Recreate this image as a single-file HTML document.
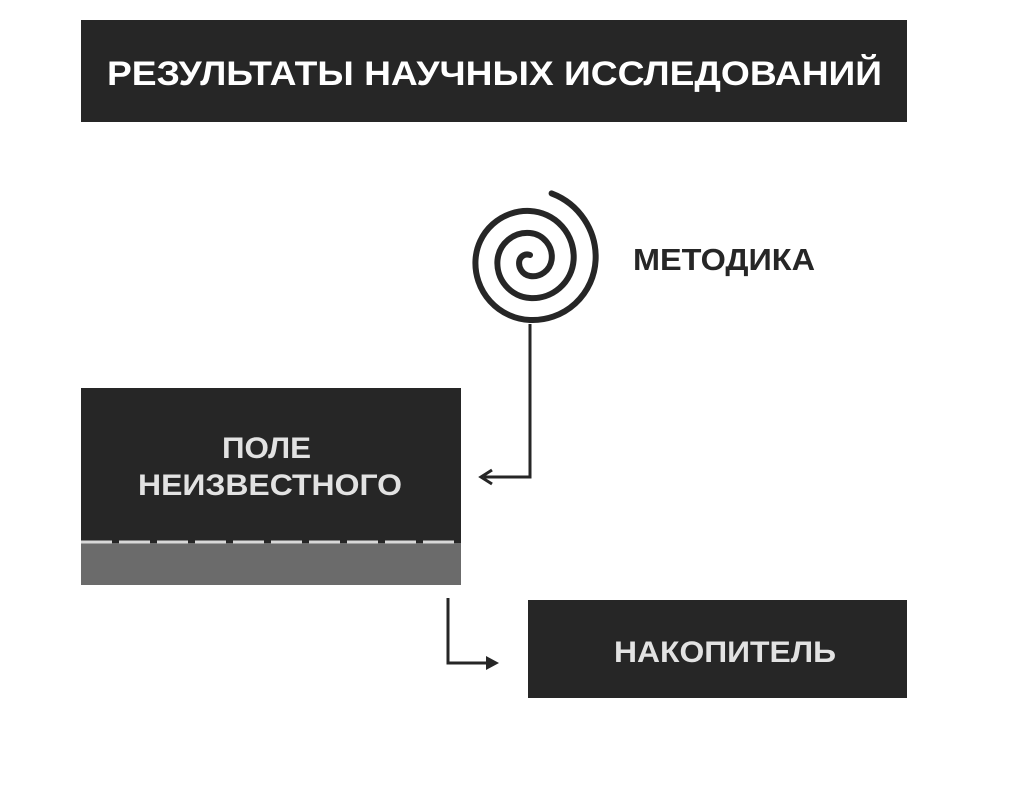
<!DOCTYPE html>
<html><head><meta charset="utf-8"><style>
html,body{margin:0;padding:0;background:#fff;}
svg{display:block;}
text{font-family:"Liberation Sans","DejaVu Sans",sans-serif;font-weight:bold;}
</style></head><body>
<svg width="1024" height="794" viewBox="0 0 1024 794" xmlns="http://www.w3.org/2000/svg">
<rect x="0" y="0" width="1024" height="794" fill="#fff"/>
<rect x="81" y="20" width="826" height="102" fill="#262626"/>
<text x="107" y="85" font-size="34" fill="#fff" textLength="775" lengthAdjust="spacingAndGlyphs">РЕЗУЛЬТАТЫ НАУЧНЫХ ИССЛЕДОВАНИЙ</text>

<path d="M551.6,193.4 A68,68 0 0 1 595.6,260 A63,63 0 0 1 530,320 A57,57 0 0 1 475.5,260 A52,52 0 0 1 530,211 A46,46 0 0 1 573.6,260 A41,41 0 0 1 530,298 A35,35 0 0 1 497.5,260 A30,30 0 0 1 530,233 A24,24 0 0 1 551.6,260 A19,19 0 0 1 530,276 A13,13 0 0 1 519.5,260 A8,8 0 0 1 530,255" fill="none" stroke="#262626" stroke-width="6" stroke-linecap="round"/>
<text x="633" y="270" font-size="31" fill="#262626" textLength="182" lengthAdjust="spacingAndGlyphs">МЕТОДИКА</text>

<polyline points="530,324 530,477 484,477" fill="none" stroke="#262626" stroke-width="3"/>
<polyline points="492,470 481,477 492,484" fill="none" stroke="#262626" stroke-width="3"/>

<rect x="81" y="388" width="380" height="155" fill="#262626"/>
<rect x="81" y="543" width="380" height="42" fill="#6b6b6b"/>
<line x1="81" y1="542" x2="461" y2="542" stroke="#d8d8d8" stroke-width="3" stroke-dasharray="31,7"/>
<text x="222" y="458" font-size="30" fill="#e2e2e2" textLength="89" lengthAdjust="spacingAndGlyphs">ПОЛЕ</text>
<text x="138" y="495" font-size="30" fill="#e2e2e2" textLength="264" lengthAdjust="spacingAndGlyphs">НЕИЗВЕСТНОГО</text>

<polyline points="448,598 448,663 494,663" fill="none" stroke="#262626" stroke-width="3"/>
<polygon points="486,656 499,663 486,670" fill="#262626"/>

<rect x="528" y="600" width="379" height="98" fill="#262626"/>
<text x="614" y="662" font-size="30" fill="#e2e2e2" textLength="222" lengthAdjust="spacingAndGlyphs">НАКОПИТЕЛЬ</text>
</svg>
</body></html>
